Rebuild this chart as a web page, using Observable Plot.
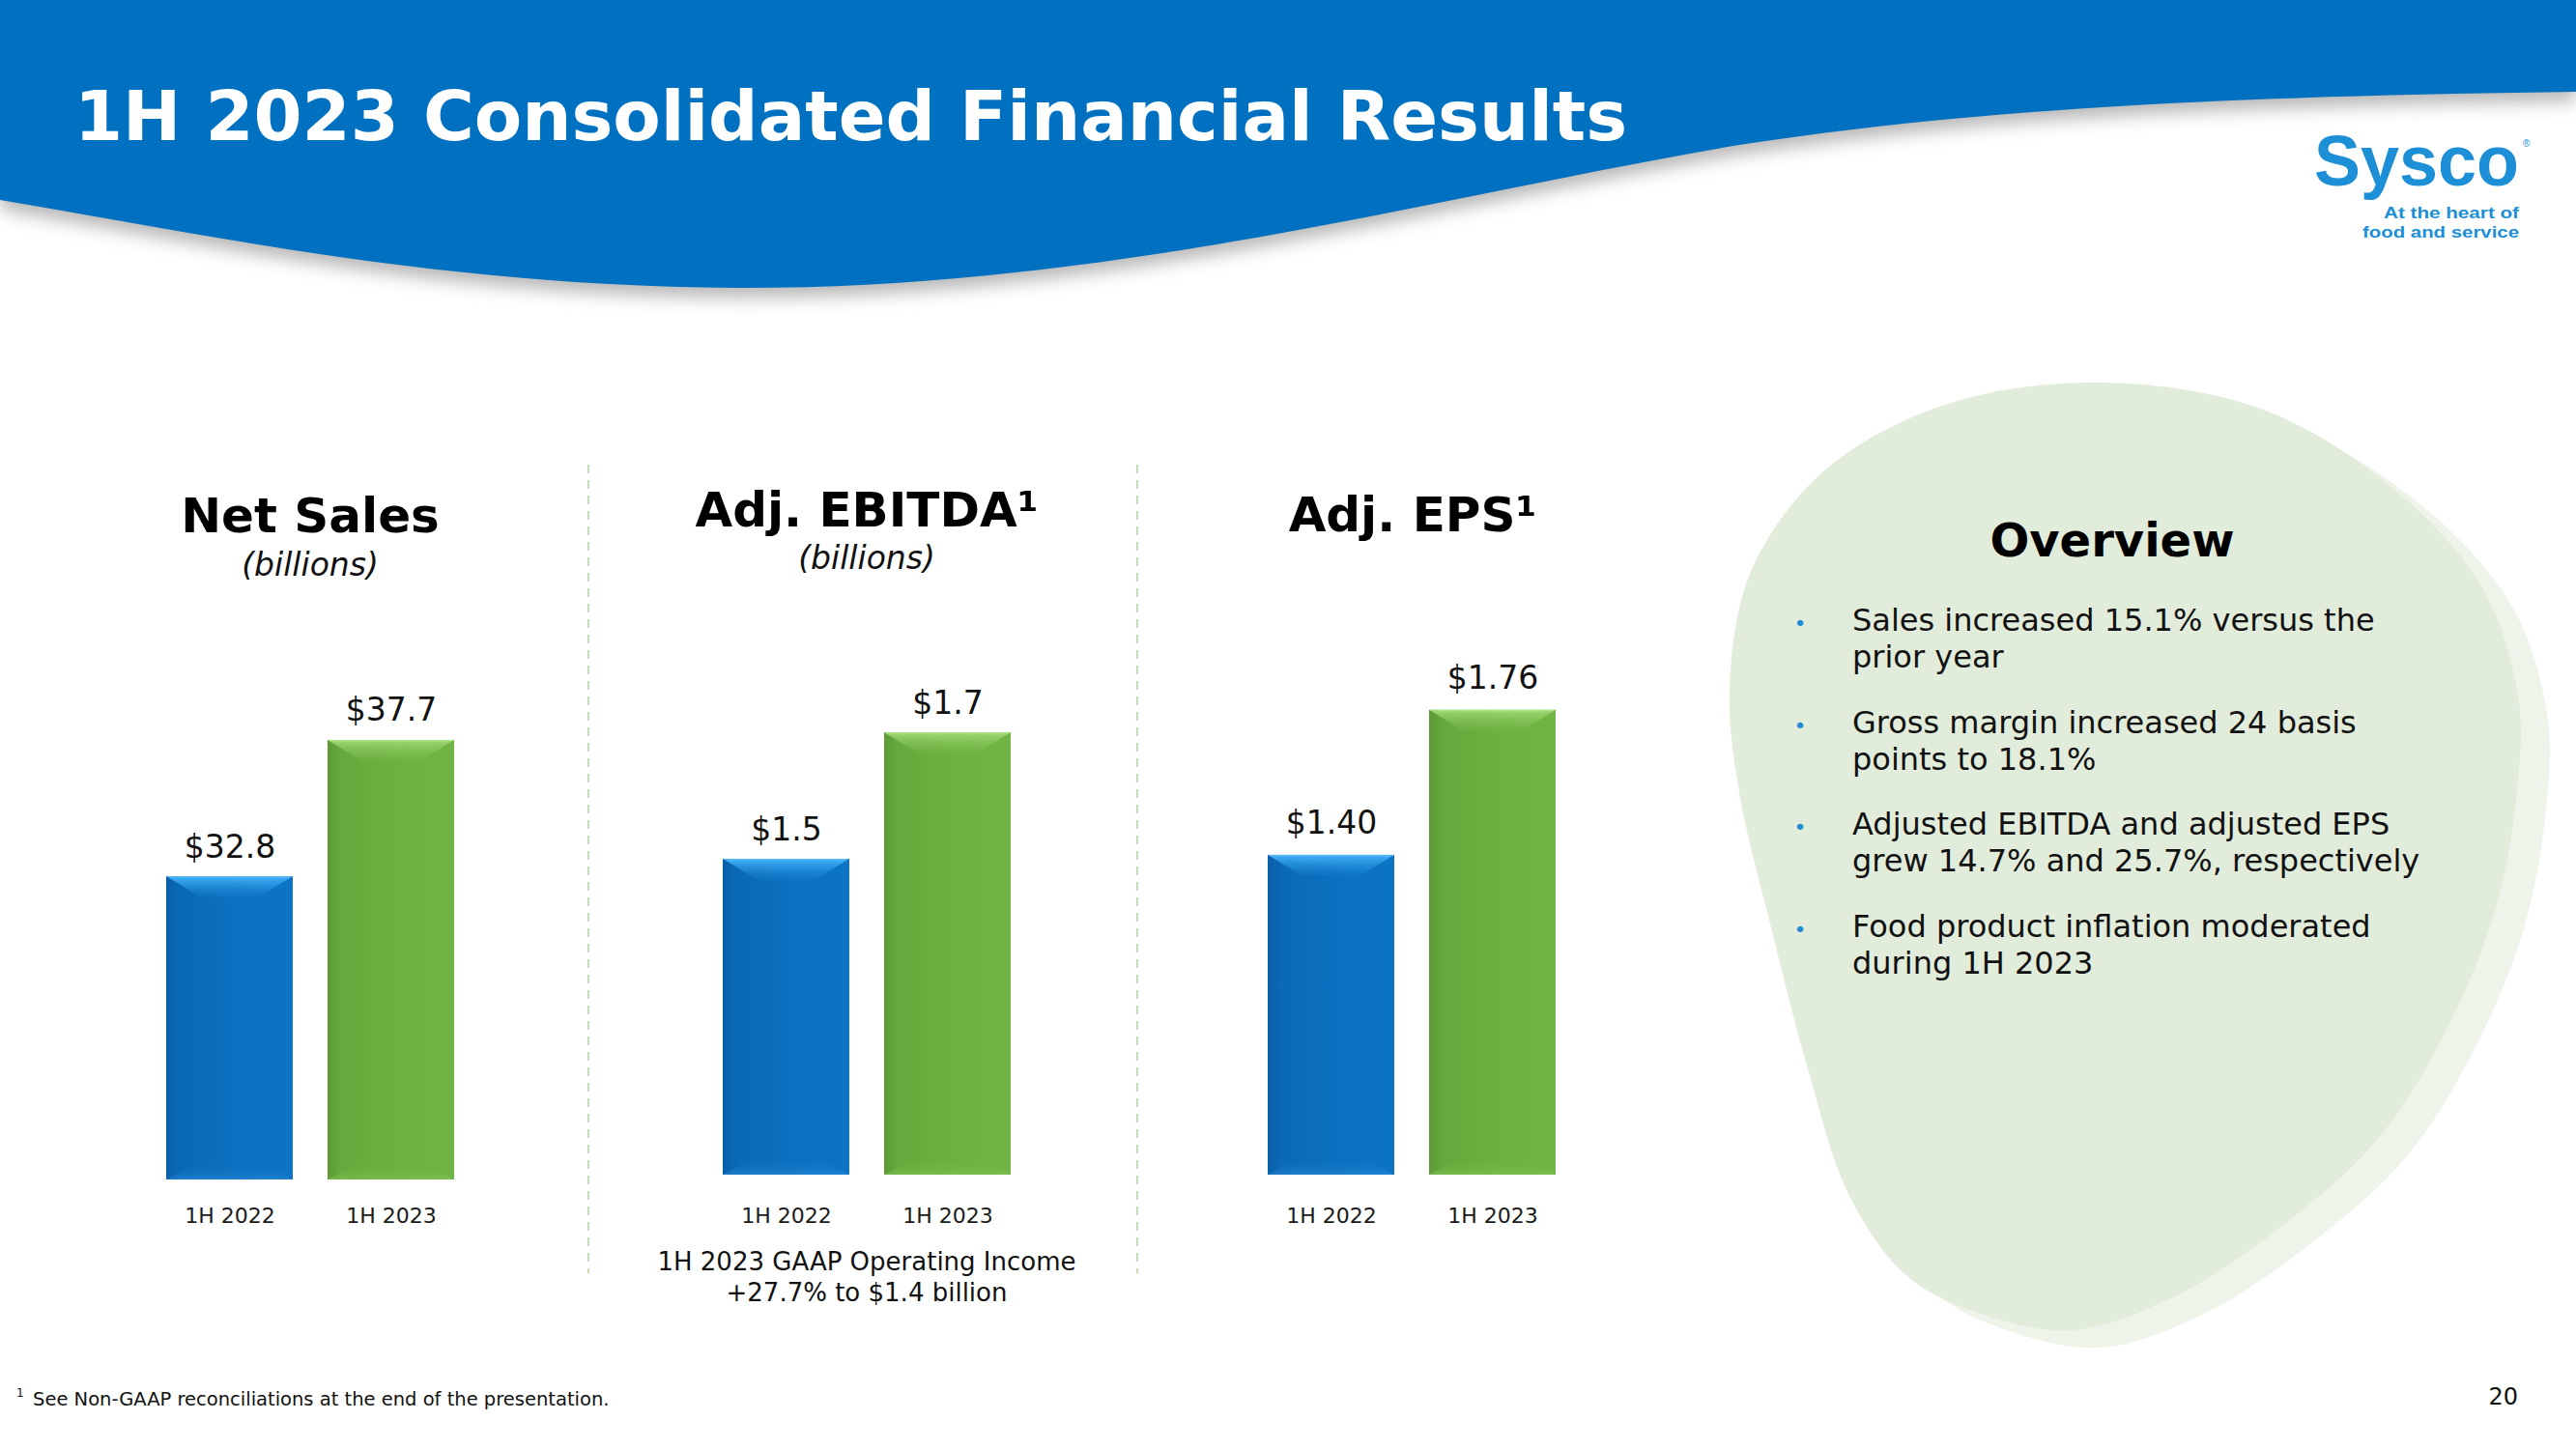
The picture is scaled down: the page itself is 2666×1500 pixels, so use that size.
<!DOCTYPE html>
<html><head><meta charset="utf-8">
<script src="https://cdn.jsdelivr.net/npm/d3@7"></script>
<script src="https://cdn.jsdelivr.net/npm/@observablehq/plot@0.6"></script>
<style>
html,body{margin:0;padding:0;background:#fff;}
#page{position:relative;width:2666px;height:1500px;overflow:hidden;font-family:"DejaVu Sans",Verdana,sans-serif;background:#fff;}
#bg,#fg{position:absolute;left:0;top:0;}
#fg{pointer-events:none;}
.panel{position:absolute;}
</style></head><body><div id="page"></div>
<script>
// ---------- data ----------
const periods = ["1H 2022", "1H 2023"];
const netSales = [32.8, 37.7];
const netSalesLabels = ["$32.8", "$37.7"];
const adjEbitda = [1.5, 1.7];
const adjEbitdaLabels = ["$1.5", "$1.7"];
const adjEps = [1.40, 1.76];
const adjEpsLabels = ["$1.40", "$1.76"];
const panelTitles = ["Net Sales", "Adj. EBITDA¹", "Adj. EPS¹"];
const panelUnits = ["(billions)", "(billions)", ""];
const gaapNote = ["1H 2023 GAAP Operating Income", "+27.7% to $1.4 billion"];
const overviewTitle = "Overview";
const overviewBullets = [
  ["Sales increased 15.1% versus the", "prior year"],
  ["Gross margin increased 24 basis", "points to 18.1%"],
  ["Adjusted EBITDA and adjusted EPS", "grew 14.7% and 25.7%, respectively"],
  ["Food product inflation moderated", "during 1H 2023"]
];
const pageTitle = "1H 2023 Consolidated Financial Results";
const footnote = "See Non-GAAP reconciliations at the end of the presentation.";
const pageNumber = "20";
const logoWord = "Sysco";
const logoTagline = ["At the heart of", "food and service"];

// ---------- page scaffolding ----------
const page = d3.select("#page");
const W = 2666, H = 1500;
const bg = page.append("svg").attr("id", "bg").attr("width", W).attr("height", H);
const defs = bg.append("defs");

function linGrad(id, x2, y2, stops) {
  const g = defs.append("linearGradient").attr("id", id)
    .attr("x1", 0).attr("y1", 0).attr("x2", x2).attr("y2", y2);
  stops.forEach(([o, c, a]) => g.append("stop").attr("offset", o).attr("stop-color", c).attr("stop-opacity", a == null ? 1 : a));
}
linGrad("gBlue", 1, 0, [[0, "#0a5ea6"], [0.1, "#0a69b6"], [0.5, "#0b70bf"], [1, "#0c74c5"]]);
linGrad("gGreen", 1, 0, [[0, "#5c9a36"], [0.1, "#65a83c"], [0.5, "#6cb140"], [1, "#71b645"]]);
linGrad("bevBlue", 0, 1, [[0, "#56bdf8"], [0.12, "#3ba8f0"], [1, "#1a86d6", 0.15]]);
linGrad("bevGreen", 0, 1, [[0, "#b0e888"], [0.12, "#97d16b"], [1, "#7cbd50", 0.15]]);
linGrad("botBlue", 0, 1, [[0, "#0b70bf", 0], [1, "#2a8ad6", 0.6]]);
linGrad("botGreen", 0, 1, [[0, "#6cb140", 0], [1, "#80c455", 0.6]]);
const blur = defs.append("filter").attr("id", "shadowBlur").attr("x", "-10%").attr("y", "-50%").attr("width", "120%").attr("height", "200%");
blur.append("feGaussianBlur").attr("stdDeviation", 9);

// header wave
const headerPath = "M0,0 H2666 V95 C2300,100 2050,112 1800,150 C1500,200 1150,300 760,298 C450,296 200,240 0,207 Z";
bg.append("path").attr("d", headerPath).attr("fill", "#7d7d7d").attr("opacity", 0.55)
  .attr("transform", "translate(0,10)").attr("filter", "url(#shadowBlur)");
bg.append("path").attr("d", headerPath).attr("fill", "#0070c0");

// overview blob (decoration)
const blobPts = [[2170,396],[2342,424],[2482,510],[2570,610],[2606,720],[2606,810],[2583,940],[2530,1070],[2460,1180],[2367,1265],[2255,1340],[2145,1377],[2050,1360],[1975,1322],[1915,1240],[1872,1110],[1833,960],[1800,820],[1790,712],[1812,592],[1885,490],[2010,420]];
const blobLine = d3.line().curve(d3.curveCatmullRomClosed.alpha(0.5));
bg.append("path").attr("d", blobLine(blobPts)).attr("fill", "#eff4eb").attr("transform", "translate(30,18)");
bg.append("path").attr("d", blobLine(blobPts)).attr("fill", "#e2ecdb");

// dividers
[609, 1177].forEach(x => bg.append("line").attr("x1", x).attr("x2", x).attr("y1", 481).attr("y2", 1318)
  .attr("stroke", "#c6dcb6").attr("stroke-width", 2).attr("stroke-dasharray", "9 7"));

// ---------- bar panels ----------
function makePanel(values, labels, opt) {
  const data = periods.map((p, i) => ({period: p, value: values[i], label: labels[i]}));
  const chart = Plot.plot({
    width: opt.width, height: opt.height,
    marginTop: 0, marginBottom: 60, marginLeft: 40, marginRight: 40,
    style: {background: "transparent", fontFamily: "DejaVu Sans", fontSize: "22px", color: "#1a1a1a", overflow: "visible"},
    x: {domain: periods, padding: 0.2143, tickSize: 0, tickPadding: opt.tickPadding, label: null},
    y: {domain: opt.domain, axis: null},
    marks: [
      Plot.barY(data, {filter: d => d.period === periods[0], x: "period", y1: opt.domain[0], y2: "value", fill: "url(#gBlue)"}),
      Plot.barY(data, {filter: d => d.period === periods[1], x: "period", y1: opt.domain[0], y2: "value", fill: "url(#gGreen)"}),
      Plot.text(data, {x: "period", y: "value", text: "label", dy: opt.labelDy, lineAnchor: "bottom", fontSize: 33, fill: "#111"})
    ]
  });
  // bevel decoration on the rects drawn by Plot
  const groups = d3.select(chart).selectAll('g[aria-label="bar"]').nodes();
  groups.forEach((g, gi) => {
    const top = gi === 0 ? "url(#bevBlue)" : "url(#bevGreen)";
    const bot = gi === 0 ? "url(#botBlue)" : "url(#botGreen)";
    d3.select(g).selectAll("rect").each(function () {
      const r = d3.select(this);
      const x = +r.attr("x"), y = +r.attr("y"), w = +r.attr("width"), h = +r.attr("height");
      const bx = 36, by = 22;
      d3.select(g).append("polygon")
        .attr("points", [[x, y], [x + w, y], [x + w - bx, y + by], [x + bx, y + by]].map(p => p.join(",")).join(" "))
        .attr("fill", top);
      d3.select(g).append("polygon")
        .attr("points", [[x, y + h], [x + w, y + h], [x + w - 30, y + h - 16], [x + 30, y + h - 16]].map(p => p.join(",")).join(" "))
        .attr("fill", bot);
    });
  });
  const holder = page.append("div").attr("class", "panel")
    .style("left", opt.left + "px").style("top", opt.top + "px");
  holder.node().appendChild(chart);
}

makePanel(netSales, netSalesLabels, {left: 95, top: 680, width: 452, height: 601, domain: [21.9, 40.685], tickPadding: 29, labelDy: -20});
makePanel(adjEbitda, adjEbitdaLabels, {left: 672, top: 680, width: 450, height: 596, domain: [1.0, 1.8196], tickPadding: 34, labelDy: -20});
makePanel(adjEps, adjEpsLabels, {left: 1236, top: 680, width: 450, height: 596, domain: [0.606, 1.8914], tickPadding: 34, labelDy: -22});

// ---------- texts ----------
const fg = page.append("svg").attr("id", "fg").attr("width", W).attr("height", H);
function txt(s, x, y, o = {}) {
  return fg.append("text").attr("x", x).attr("y", y).text(s)
    .attr("font-family", o.family || "DejaVu Sans")
    .attr("font-size", o.size || 22)
    .attr("font-weight", o.weight || "normal")
    .attr("font-style", o.style || "normal")
    .attr("fill", o.fill || "#111")
    .attr("text-anchor", o.anchor || "start");
}
txt(pageTitle, 77, 145, {size: 72, weight: "bold", fill: "#fff"});

// logo
txt(logoWord, 2395, 192, {family: "Liberation Sans", size: 75, weight: "bold", fill: "#1c8fd7"})
  .attr("textLength", 212).attr("lengthAdjust", "spacingAndGlyphs");
txt("®", 2611, 152, {family: "Liberation Sans", size: 10, fill: "#1c8fd7"});
txt(logoTagline[0], 2607, 226, {family: "Liberation Sans", size: 17, weight: "bold", fill: "#1c8fd7", anchor: "end"})
  .attr("textLength", 140).attr("lengthAdjust", "spacingAndGlyphs");
txt(logoTagline[1], 2607, 246, {family: "Liberation Sans", size: 17, weight: "bold", fill: "#1c8fd7", anchor: "end"})
  .attr("textLength", 162).attr("lengthAdjust", "spacingAndGlyphs");

// panel titles
const titleX = [321, 897, 1462], titleY = [551, 545, 550], unitY = [596, 589, 0];
panelTitles.forEach((t, i) => {
  txt(t, titleX[i], titleY[i], {size: 50, weight: "bold", fill: "#000", anchor: "middle"});
  if (panelUnits[i]) txt(panelUnits[i], titleX[i], unitY[i], {size: 33, style: "italic", fill: "#111", anchor: "middle"});
});
txt(gaapNote[0], 897, 1315, {size: 26, anchor: "middle"});
txt(gaapNote[1], 897, 1347, {size: 26, anchor: "middle"});

// overview
txt(overviewTitle, 2186, 576, {size: 48, weight: "bold", fill: "#000", anchor: "middle"});
const bulletY = [653, 759, 864, 970];
overviewBullets.forEach((lines, i) => {
  txt("•", 1863, bulletY[i], {size: 22, fill: "#1f8dd6", anchor: "middle"});
  lines.forEach((l, j) => txt(l, 1917, bulletY[i] + j * 38, {size: 32}));
});

// footnote + page number
txt("1", 17, 1446, {size: 12});
txt(footnote, 34, 1455, {size: 19.5});
txt(pageNumber, 2606, 1454, {size: 24, anchor: "end"});
</script></body></html>
